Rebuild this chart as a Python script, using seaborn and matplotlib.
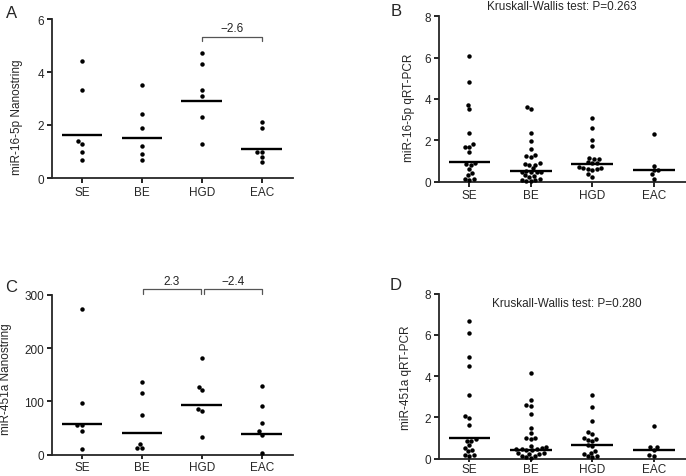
import numpy as np
import pandas as pd
import matplotlib
matplotlib.use("Agg")
import matplotlib.pyplot as plt
import seaborn as sns

groups = ["SE", "BE", "HGD", "EAC"]

# Panel A: miR-16-5p Nanostring
a_SE = [4.42, 3.31, 1.30, 1.40, 0.98, 0.69]
a_BE = [3.51, 2.40, 1.90, 1.20, 0.89, 0.69]
a_HGD = [4.72, 4.31, 3.31, 3.09, 2.30, 1.30]
a_EAC = [2.10, 1.90, 0.99, 0.99, 0.79, 0.59]
a_med = [1.62, 1.52, 2.92, 1.11]

# Panel B: miR-16-5p qRT-PCR
b_SE = [6.1, 4.8, 3.7, 3.5, 2.35, 1.8, 1.7, 1.68, 1.45, 0.9, 0.88, 0.8, 0.6, 0.42, 0.3, 0.15, 0.12, 0.1]
b_BE = [3.6, 3.5, 2.35, 1.95, 1.6, 1.3, 1.25, 1.2, 0.9, 0.85, 0.82, 0.8, 0.65, 0.5, 0.48,
        0.47, 0.45, 0.45, 0.3, 0.28, 0.25, 0.12, 0.1, 0.08, 0.05, 0.05]
b_HGD = [3.1, 2.6, 2.0, 1.75, 1.15, 1.1, 1.1, 0.95, 0.9, 0.9, 0.7, 0.68, 0.65, 0.62, 0.6, 0.55, 0.35, 0.25]
b_EAC = [2.3, 0.78, 0.55, 0.55, 0.35, 0.15]
b_med = [0.97, 0.50, 0.87, 0.55]

# Panel C: miR-451a Nanostring
c_SE = [274, 97.7, 55.2, 55.0, 44.5, 10.7]
c_BE = [136, 116.5, 74.6, 20.7, 13.2, 13.2]
c_HGD = [181.6, 127.8, 121.5, 85.8, 81.5, 33.2]
c_EAC = [129.7, 90.9, 59.5, 43.9, 37.6, 3.2]
c_med = [58.3, 40.1, 93.4, 39.5]

# Panel D: miR-451a qRT-PCR
d_SE = [6.7, 6.1, 4.95, 4.5, 3.07, 2.05, 1.95, 1.62, 0.95, 0.88, 0.85, 0.68, 0.52, 0.41, 0.35, 0.2, 0.18, 0.15]
d_BE = [4.15, 2.85, 2.6, 2.55, 2.15, 1.5, 1.25, 1.0, 0.98, 0.95, 0.6, 0.55, 0.5, 0.48, 0.45,
        0.45, 0.42, 0.4, 0.3, 0.28, 0.25, 0.22, 0.15, 0.12, 0.08, 0.05]
d_HGD = [3.1, 2.5, 1.85, 1.3, 1.2, 1.0, 0.95, 0.9, 0.85, 0.65, 0.6, 0.35, 0.3, 0.25, 0.15, 0.12, 0.1]
d_EAC = [1.6, 0.55, 0.55, 0.42, 0.2, 0.15]
d_med = [0.99, 0.43, 0.68, 0.42]

sns.set_style("ticks")
plt.rcParams["font.family"] = ["Liberation Sans", "DejaVu Sans"]
FS = 8.5

fig = plt.figure(figsize=(6.86, 4.77), dpi=100)

def panel(rect, series, med, ylim, yticks, ylabel, label_xy, letter, letter_pos,
          xtick_len=3.5, xtick_pad=2):
    ax = fig.add_axes(rect)
    df = pd.DataFrame({
        "group": sum([[g] * len(v) for g, v in zip(groups, series)], []),
        "value": sum([list(v) for v in series], []),
    })
    sns.swarmplot(data=df, x="group", y="value", order=groups, color="black",
                  size=3.2, linewidth=0, ax=ax)
    for coll in ax.collections:
        coll.set_clip_on(False)
    for i, m in enumerate(med):
        ax.hlines(m, i - 0.34, i + 0.34, color="black", lw=1.7, zorder=3)
    ax.set_xlim(-0.5, 3.52)
    ax.set_ylim(*ylim)
    ax.set_yticks(yticks)
    ax.set_yticklabels([str(t) for t in yticks], fontsize=FS)
    ax.set_xticks(range(4))
    ax.set_xticklabels(groups, fontsize=FS)
    ax.set_xlabel("")
    ax.set_ylabel(ylabel, fontsize=FS)
    ax.yaxis.set_label_coords(*label_xy)
    for s in ["top", "right"]:
        ax.spines[s].set_visible(False)
    for s in ["left", "bottom"]:
        ax.spines[s].set_linewidth(1.3)
    ax.tick_params(axis="y", width=1.2, length=3.5, pad=2, color="black")
    ax.tick_params(axis="x", width=1.2, length=xtick_len, pad=xtick_pad, color="black")
    fig.text(letter_pos[0] / 686, 1 - letter_pos[1] / 477, letter, fontsize=12,
             ha="center", va="center")
    return ax

axA = panel([52 / 686, (477 - 179) / 477, 241 / 686, 159 / 477],
            [a_SE, a_BE, a_HGD, a_EAC], a_med, (0, 6), [0, 2, 4, 6],
            "miR-16-5p Nanostring", (-0.12, 0.39), "A", (12, 14))
axB = panel([438.7 / 686, (477 - 182.7) / 477, 247 / 686, 165.4 / 477],
            [b_SE, b_BE, b_HGD, b_EAC], b_med, (0, 8), [0, 2, 4, 6, 8],
            "miR-16-5p qRT-PCR", (-0.097, 0.45), "B", (396, 11))
axC = panel([52 / 686, (477 - 455.7) / 477, 241 / 686, 159.7 / 477],
            [c_SE, c_BE, c_HGD, c_EAC], c_med, (0, 300), [0, 100, 200, 300],
            "miR-451a Nanostring", (-0.167, 0.48), "C", (11, 287),
            xtick_len=3, xtick_pad=1.2)
axD = panel([438.7 / 686, (477 - 459.7) / 477, 247 / 686, 165 / 477],
            [d_SE, d_BE, d_HGD, d_EAC], d_med, (0, 8), [0, 2, 4, 6, 8],
            "miR-451a qRT-PCR", (-0.108, 0.496), "D", (396, 286),
            xtick_len=2.5, xtick_pad=0.8)

def bracket(ax, x0, x1, ytop, ybot, text, ytext):
    ax.plot([x0, x0, x1, x1], [ybot, ytop, ytop, ybot], color="#555555", lw=0.9,
            clip_on=False)
    ax.text((x0 + x1) / 2, ytext, text, ha="center", va="center", fontsize=FS,
            color="#222222", clip_on=False)

bracket(axA, 2.0, 3.0, 5.33, 5.17, "\u22122.6", 5.66)
bracket(axC, 1.02, 1.98, 310.7, 302.5, "2.3", 327)
bracket(axC, 2.04, 3.0, 310.7, 302.5, "\u22122.4", 327)

axB.text(0.5, 1.06, "Kruskall-Wallis test: P=0.263", transform=axB.transAxes,
         ha="center", va="center", fontsize=FS)
axD.text(0.52, 0.945, "Kruskall-Wallis test: P=0.280", transform=axD.transAxes,
         ha="center", va="center", fontsize=FS)

fig.savefig("out.png", dpi=100)
